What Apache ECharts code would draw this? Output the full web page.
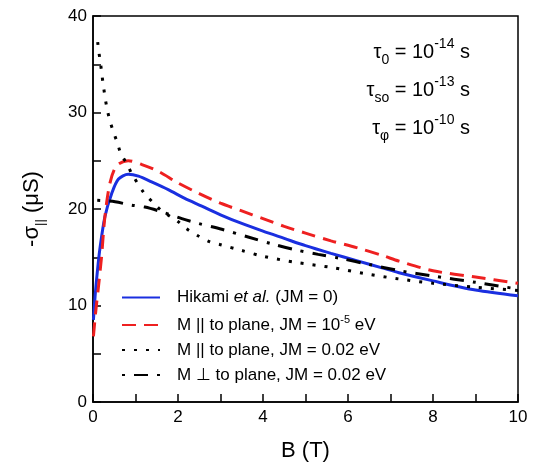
<!DOCTYPE html>
<html>
<head>
<meta charset="utf-8">
<script src="https://cdn.jsdelivr.net/npm/echarts@6/dist/echarts.min.js"></script>
<style>
  html, body { margin: 0; padding: 0; background: #fff; }
  #chart { width: 546px; height: 462px; }
</style>
</head>
<body>
<div id="chart"></div>
<script>
// B (T) and -sigma (uS), one pair of arrays per curve
var bHikami = [0.01, 0.05, 0.1, 0.16, 0.28, 0.44, 0.6, 0.83, 1.07, 1.38, 1.77, 2.16, 2.56, 3.0, 3.5, 4.0, 4.5, 5.0, 5.6, 6.2, 6.8, 7.2, 8.0, 9.0, 10];
var hikami = [8.5, 11.0, 13.4, 15.8, 19.2, 21.6, 23.1, 23.6, 23.4, 22.8, 22.0, 21.1, 20.3, 19.4, 18.5, 17.7, 16.95, 16.2, 15.4, 14.65, 13.9, 13.4, 12.55, 11.6, 11.0];

var bParSmall = [0.01, 0.06, 0.12, 0.2, 0.28, 0.4, 0.56, 0.83, 1.15, 1.54, 2.0, 2.5, 3.0, 3.5, 4.0, 4.5, 5.0, 5.6, 6.2, 6.8, 7.2, 8.0, 9.0, 10];
var parSmall = [6.8, 9.2, 11.6, 15.0, 19.2, 22.7, 24.5, 25.0, 24.6, 23.9, 22.7, 21.6, 20.6, 19.8, 19.0, 18.2, 17.5, 16.7, 16.0, 15.2, 14.6, 13.6, 12.95, 12.3];

var bParBig = [0.11, 0.14, 0.18, 0.21, 0.25, 0.29, 0.34, 0.4, 0.48, 0.57, 0.66, 0.81, 0.92, 1.21, 1.42, 1.62, 2.0, 2.2, 2.48, 2.75, 3.0, 3.5, 4.0, 4.8, 5.6, 6.4, 7.2, 8.0, 9.0, 10];
var parBig = [37.3, 36.2, 35.0, 33.9, 32.6, 31.4, 30.2, 29.1, 28.0, 26.9, 25.7, 24.6, 23.6, 21.6, 20.65, 19.8, 18.7, 17.95, 17.2, 16.6, 16.3, 15.7, 15.1, 14.45, 13.95, 13.3, 12.75, 12.3, 11.9, 11.55];

var bPerp = [0.1, 0.3, 0.52, 0.91, 1.22, 1.62, 2.09, 2.48, 3.03, 3.65, 4.2, 4.73, 5.3, 5.8, 6.5, 7.22, 8.0, 9.0, 10];
var perp = [20.9, 20.85, 20.75, 20.4, 20.2, 19.7, 19.0, 18.5, 17.9, 17.1, 16.4, 15.8, 15.3, 14.9, 14.25, 13.6, 13.05, 12.4, 11.7];

// ticks and tick labels
var xTicks = [0, 1, 2, 3, 4, 5, 6, 7, 8, 9, 10];
var xLabels = [0, 2, 4, 6, 8, 10];
var yTicks = [0, 5, 10, 15, 20, 25, 30, 35, 40];
var yLabels = [0, 10, 20, 30, 40];

var seriesNames = ['hikami', 'parSmall', 'parBig', 'perp'];
var legendLabels = {
  hikami: 'Hikami {i|et al.} (JM = 0)',
  parSmall: 'M || to plane, JM = 10{sup|-5} eV',
  parBig: 'M || to plane, JM = 0.02 eV',
  perp: 'M \u22a5 to plane, JM = 0.02 eV'
};

function pairs(xs, ys) {
  return xs.map(function (x, i) { return [x, ys[i]]; });
}

var font = 'Liberation Sans, Arial, sans-serif';
var myChart = echarts.init(document.getElementById('chart'));

//轴线和刻度 每次新建对象 (v6 里加第二根轴会让下/左的刻度消失, 所以上/右只用 grid 边框)
function axisLine() {
  return { show: true, onZero: false, lineStyle: { color: '#000', width: 1.5 } };
}
function axisTick(values) {
  return { show: true, inside: true, length: 8, customValues: values, lineStyle: { color: '#000', width: 1.5 } };
}

function tauText(sub, exp) {
  return '{t|\u03c4}{sub|' + sub + '}{t| = 10}{sup|' + exp + '}{t| s}';
}
var tauRich = {
  t: { fontSize: 20, fontFamily: font, lineHeight: 30, verticalAlign: 'middle' },
  sub: { fontSize: 14, fontFamily: font, lineHeight: 30, verticalAlign: 'bottom' },
  sup: { fontSize: 14, fontFamily: font, lineHeight: 30, verticalAlign: 'top' }
};

var option = {
  animation: false,
  backgroundColor: '#fff',
  textStyle: { fontFamily: font },
  grid: {
    left: 93, right: 28, top: 16, bottom: 60, outerBoundsMode: 'none', containLabel: false,
    show: true, borderColor: '#000', borderWidth: 1.5, backgroundColor: 'transparent'
  },
  legend: {
    data: seriesNames,
    orient: 'vertical',
    left: 116,
    top: 284,
    itemWidth: 38,
    itemHeight: 14,
    itemGap: 8,
    itemStyle: { opacity: 0 },
    formatter: function (name) { return legendLabels[name]; },
    textStyle: {
      fontFamily: font,
      fontSize: 17,
      color: '#000',
      padding: [0, 0, 0, 12],
      rich: {
        i: { fontStyle: 'italic', fontSize: 17, fontFamily: font, color: '#000' },
        sup: { fontSize: 11, fontFamily: font, color: '#000', verticalAlign: 'top', lineHeight: 22 }
      }
    }
  },
  xAxis: {
    type: 'value', min: 0, max: 10, position: 'bottom',
    axisLine: axisLine(), axisTick: axisTick(xTicks), splitLine: { show: false },
    name: 'B (T)', nameLocation: 'middle', nameGap: 38,
    nameTextStyle: { fontSize: 22, color: '#000', fontFamily: font },
    axisLabel: { customValues: xLabels, fontSize: 17, color: '#000', margin: 7, fontFamily: font }
  },
  yAxis: {
    type: 'value', min: 0, max: 40, position: 'left',
    axisLine: axisLine(), axisTick: axisTick(yTicks), splitLine: { show: false },
    name: '{t|-\u03c3}{sub|||}{t| (\u03bcS)}', nameLocation: 'middle', nameGap: 46, nameRotate: 90,
    nameTextStyle: {
      fontSize: 22, color: '#000', fontFamily: font,
      rich: {
        t: { fontSize: 22, color: '#000', fontFamily: font, lineHeight: 30 },
        sub: { fontSize: 13, color: '#000', fontFamily: font, verticalAlign: 'bottom', lineHeight: 30 }
      }
    },
    axisLabel: { customValues: yLabels, fontSize: 17, color: '#000', margin: 6, fontFamily: font }
  },
  graphic: [
    { type: 'text', right: 76, top: 37, style: { text: tauText('0', '-14'), fill: '#000', rich: tauRich } },
    { type: 'text', right: 76, top: 75, style: { text: tauText('so', '-13'), fill: '#000', rich: tauRich } },
    { type: 'text', right: 76, top: 113, style: { text: tauText('\u03c6', '-10'), fill: '#000', rich: tauRich } }
  ],
  series: [
    {
      name: 'hikami', type: 'line', symbol: 'none', smooth: 0.3,
      data: pairs(bHikami, hikami),
      lineStyle: { color: '#1a2fe0', width: 3 }, itemStyle: { color: '#1a2fe0' }
    },
    {
      name: 'parSmall', type: 'line', symbol: 'none', smooth: 0.3,
      data: pairs(bParSmall, parSmall),
      lineStyle: { color: '#ee2020', width: 3, type: [14, 8] }, itemStyle: { color: '#ee2020' }
    },
    {
      name: 'parBig', type: 'line', symbol: 'none', smooth: 0.3,
      data: pairs(bParBig, parBig),
      lineStyle: { color: '#000', width: 3, type: [3, 9] }, itemStyle: { color: '#000' }
    },
    {
      name: 'perp', type: 'line', symbol: 'none', smooth: 0.3,
      data: pairs(bPerp, perp),
      lineStyle: { color: '#000', width: 3, type: [3, 9, 14, 9] }, itemStyle: { color: '#000' }
    }
  ]
};

myChart.setOption(option);
window.addEventListener('resize', function () { myChart.resize(); });
</script>
</body>
</html>
